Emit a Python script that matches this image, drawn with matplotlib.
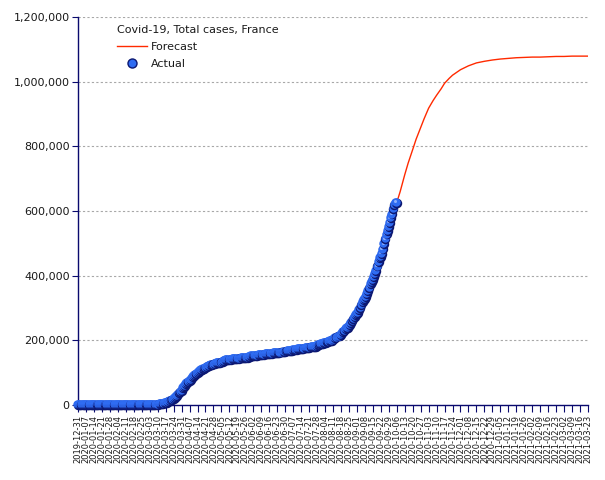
import numpy as np
import pandas as pd
import matplotlib
matplotlib.use("Agg")
import matplotlib.pyplot as plt
import matplotlib.transforms as mtransforms
from matplotlib.lines import Line2D
from matplotlib.ticker import FuncFormatter

# daily cumulative cases (thousands), first day 2019-12-31
start_date = "2019-12-31"
actual_k = [
    0, 0, 0, 0, 0, 0, 0,
    0, 0, 0, 0, 0, 0, 0,
    0, 0, 0, 0, 0, 0, 0,
    0, 0, 0, 0, 0.003, 0.003, 0.003,
    0.004, 0.004, 0.005, 0.006, 0.006, 0.006, 0.006,
    0.006, 0.006, 0.006, 0.006, 0.011, 0.011, 0.011,
    0.011, 0.011, 0.011, 0.012, 0.012, 0.012, 0.012,
    0.012, 0.012, 0.012, 0.012, 0.012, 0.012, 0.012,
    0.012, 0.014, 0.018, 0.038, 0.057, 0.100, 0.130,
    0.191, 0.212, 0.285, 0.423, 0.653, 0.949, 1.126,
    1.412, 1.784, 2.281, 2.876, 3.661, 4.499, 5.423,
    6.633, 7.730, 9.134, 10.995, 12.612, 14.459, 16.018,
    19.856, 22.302, 25.233, 29.155, 32.964, 37.575, 40.174,
    44.550, 52.128, 56.989, 59.105, 64.338, 68.605, 70.478,
    74.390, 78.167, 82.048, 86.334, 90.276, 93.790, 95.403,
    98.076, 103.573, 106.206, 108.847, 109.252, 111.821, 112.606,
    114.657, 117.324, 119.151, 120.804, 122.577, 124.114, 124.575,
    125.770, 126.835, 128.442, 129.581, 130.185, 130.979, 131.287,
    131.863, 132.967, 137.150, 137.779, 138.421, 138.854, 139.063,
    139.519, 140.227, 140.734, 141.356, 141.919, 142.291, 142.411,
    142.903, 143.427, 143.845, 144.163, 144.556, 144.806, 144.921,
    145.279, 145.555, 145.555, 149.071, 149.668, 151.325, 151.753,
    151.825, 152.091, 152.444, 153.055, 153.634, 154.188, 154.591,
    154.899, 155.136, 155.561, 156.287, 156.813, 157.220, 157.716,
    157.716, 158.174, 158.641, 159.452, 160.093, 160.377, 160.750,
    161.267, 161.348, 161.348, 162.936, 162.936, 162.936, 164.260,
    164.801, 165.719, 166.378, 166.960, 166.960, 166.960, 168.335,
    169.473, 170.752, 170.752, 170.752, 172.377, 172.377, 172.377,
    173.304, 173.304, 174.674, 175.027, 176.754, 176.754, 176.754,
    177.338, 178.336, 180.528, 180.528, 180.528, 180.528, 180.528,
    183.079, 185.196, 186.573, 187.919, 187.919, 187.919, 191.295,
    191.295, 192.334, 194.029, 195.633, 197.921, 197.921, 197.921,
    202.775, 202.775, 206.696, 209.365, 212.211, 212.211, 212.211,
    215.633, 221.267, 225.043, 229.814, 234.400, 238.002, 238.002,
    242.899, 248.158, 253.587, 259.698, 267.077, 272.530, 277.943,
    281.025, 286.007, 293.024, 300.181, 309.156, 317.706, 324.777,
    328.980, 335.524, 344.101, 353.943, 363.350, 373.911, 381.094,
    387.252, 395.104, 404.888, 415.481, 428.696, 442.194, 453.763,
    458.061, 468.069, 481.141, 497.237, 513.034, 527.446, 538.569,
    550.690, 563.535, 577.505, 589.653, 606.625, 619.190, 624.274,
    626.0,
]

forecast_dates = [
    "2020-10-06", "2020-10-09", "2020-10-13", "2020-10-16", "2020-10-20",
    "2020-10-23", "2020-10-27", "2020-10-30", "2020-11-03", "2020-11-07",
    "2020-11-10", "2020-11-14", "2020-11-17", "2020-11-21", "2020-11-24",
    "2020-12-01", "2020-12-08", "2020-12-15", "2020-12-22", "2020-12-29",
    "2021-01-05", "2021-01-12", "2021-01-19", "2021-01-26", "2021-02-02",
    "2021-02-09", "2021-02-16", "2021-02-23", "2021-03-02", "2021-03-09",
    "2021-03-16", "2021-03-23",
]
forecast_k = [
    626, 660, 712, 748, 790,
    822, 858, 885, 918, 942,
    958, 978, 995, 1010, 1020,
    1037, 1049, 1058, 1063, 1067,
    1070, 1072, 1074, 1075, 1076,
    1076, 1077, 1078, 1078, 1079,
    1079, 1079,
]

title = "Covid-19, Total cases, France"
series_names = ["Forecast", "Actual"]

actual_dates = pd.date_range(start_date, periods=len(actual_k), freq="D")
actual = np.array(actual_k) * 1000
fc_dates = pd.to_datetime(forecast_dates)
forecast = np.array(forecast_k) * 1000
tick_dates = pd.date_range("2019-12-31", "2021-03-23", freq="7D")

navy = "#0a0a6e"
red = "#ff2a00"
ball_dark = "#0c1872"
ball_mid = "#2f6cf2"
ball_light = "#8cb0ff"

fig = plt.figure(figsize=(6.05, 4.8), dpi=100)
ax = fig.add_axes([78 / 605, 75 / 480, 510 / 605, 388 / 480])

ax.set_xlim(tick_dates[0], tick_dates[-1])
ax.set_ylim(0, 1200000)
ax.set_yticks(range(0, 1200001, 200000))
ax.yaxis.set_major_formatter(FuncFormatter(lambda v, p: f"{int(v):,}"))
ax.set_xticks(tick_dates)
ax.set_xticklabels([d.strftime("%Y-%m-%d") for d in tick_dates],
                   rotation=90, fontsize=6)
ax.tick_params(axis="y", labelsize=8, length=4, color=navy, labelcolor="#1a1a1a", pad=2)
ax.tick_params(axis="x", length=5, color=navy, labelcolor="#1a1a1a", pad=2)

for s in ["top", "right"]:
    ax.spines[s].set_visible(False)
for s in ["left", "bottom"]:
    ax.spines[s].set_color(navy)
    ax.spines[s].set_linewidth(1.0)

ax.yaxis.grid(True, color="#a8a8a8", linestyle=(0, (2, 2)), linewidth=0.8)
ax.set_axisbelow(True)

ax.plot(fc_dates, forecast, color=red, lw=1.0, zorder=2)

# shaded balls, drawn point by point so later ones overlap earlier ones
off_mid = mtransforms.offset_copy(ax.transData, fig=fig, x=-0.8, y=0.8, units="dots")
off_hi = mtransforms.offset_copy(ax.transData, fig=fig, x=-1.6, y=1.6, units="dots")
for i, (d, v) in enumerate(zip(actual_dates, actual)):
    z = 3 + i * 0.003
    ax.plot([d], [v], "o", ms=6.8, mfc=ball_dark, mec="none", zorder=z, clip_on=False)
    ax.plot([d], [v], "o", ms=6.0, mfc=ball_mid, mec="none", zorder=z + 0.001,
            clip_on=False, transform=off_mid)
    ax.plot([d], [v], "o", ms=2.2, mfc=ball_light, mec="none", zorder=z + 0.002,
            clip_on=False, transform=off_hi)

handles = [
    Line2D([], [], color=red, lw=1.0),
    Line2D([], [], marker="o", ls="none", ms=6.5, mfc=ball_mid, mec=ball_dark),
]
leg = ax.legend(handles, series_names, title=title, loc="upper left",
                bbox_to_anchor=(0.062, 1.0), frameon=False, fontsize=8,
                title_fontsize=8, handlelength=2.7, handletextpad=0.3,
                labelspacing=0.65, alignment="left", borderaxespad=0.3)
for t in leg.get_texts():
    t.set_color("#1a1a1a")
leg.get_title().set_color("#1a1a1a")

fig.savefig("out.png", dpi=100)
